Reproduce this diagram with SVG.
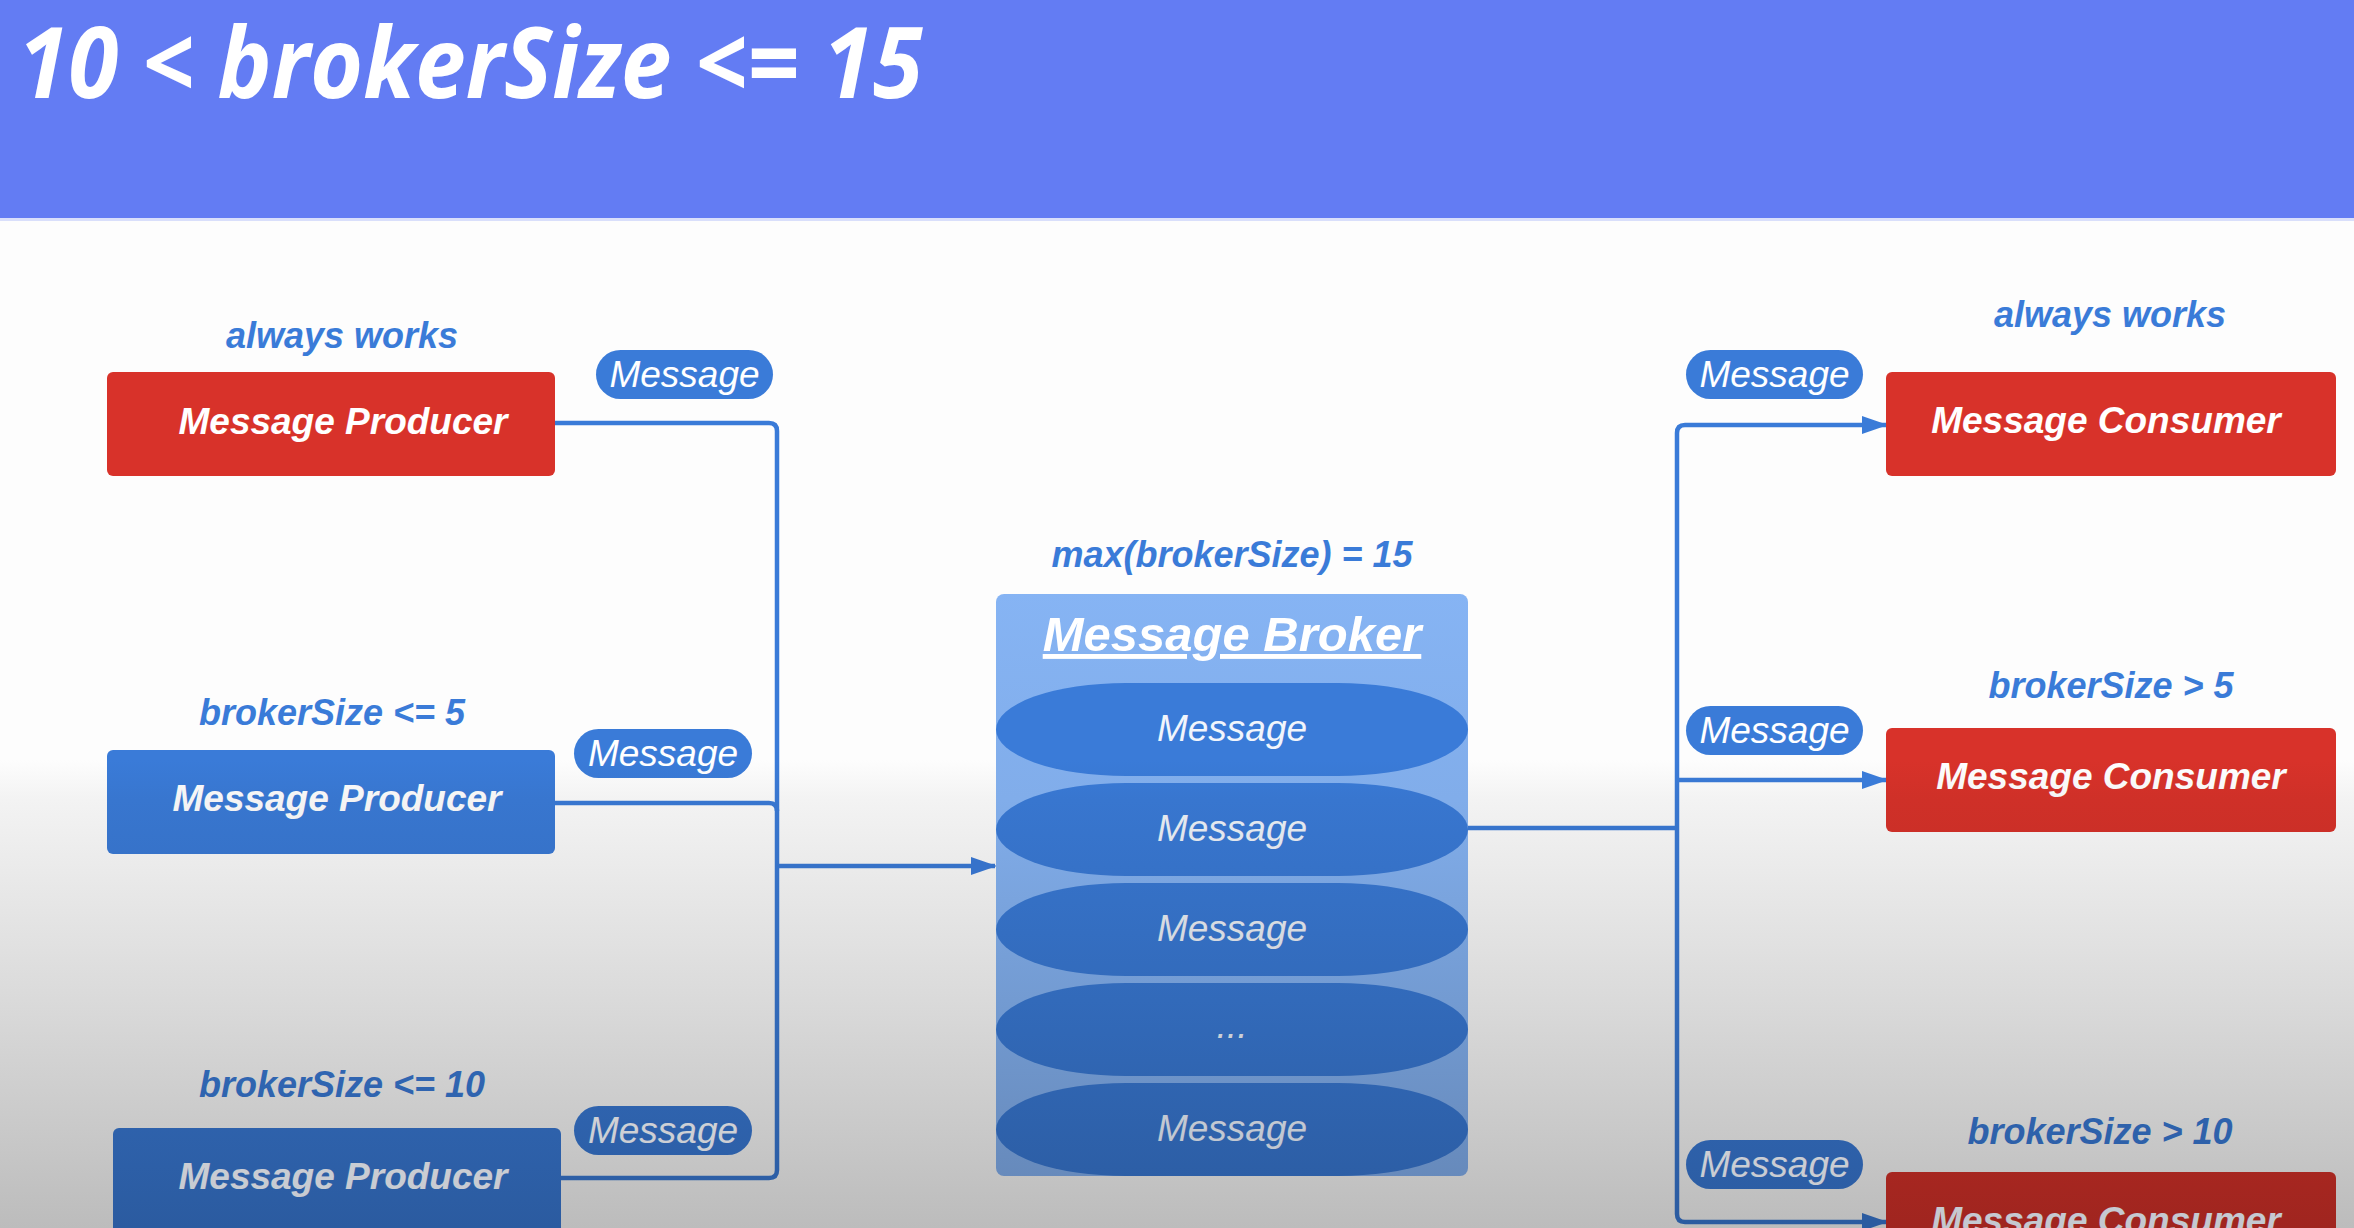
<svg xmlns="http://www.w3.org/2000/svg" width="2354" height="1228" viewBox="0 0 2354 1228">
  <defs>
    <linearGradient id="gBg" gradientUnits="userSpaceOnUse" x1="0" y1="0" x2="0" y2="1228">
      <stop offset="0.619" stop-color="#fdfdfd"/>
      <stop offset="0.651" stop-color="#f3f3f3"/>
      <stop offset="0.814" stop-color="#dadada"/>
      <stop offset="1" stop-color="#bcbcbc"/>
    </linearGradient>
    <linearGradient id="gBlue" gradientUnits="userSpaceOnUse" x1="0" y1="0" x2="0" y2="1228">
      <stop offset="0.619" stop-color="#3a7bd8"/>
      <stop offset="0.651" stop-color="#3876cf"/>
      <stop offset="0.814" stop-color="#326aba"/>
      <stop offset="1" stop-color="#2b5ba0"/>
    </linearGradient>
    <linearGradient id="gRed" gradientUnits="userSpaceOnUse" x1="0" y1="0" x2="0" y2="1228">
      <stop offset="0.619" stop-color="#d8322a"/>
      <stop offset="0.651" stop-color="#cf3028"/>
      <stop offset="0.814" stop-color="#ba2b24"/>
      <stop offset="1" stop-color="#a0251f"/>
    </linearGradient>
    <linearGradient id="gWhite" gradientUnits="userSpaceOnUse" x1="0" y1="0" x2="0" y2="1228">
      <stop offset="0.619" stop-color="#ffffff"/>
      <stop offset="0.651" stop-color="#f4f4f4"/>
      <stop offset="0.814" stop-color="#dbdbdb"/>
      <stop offset="1" stop-color="#c4c8d0"/>
    </linearGradient>
    <linearGradient id="gLight" gradientUnits="userSpaceOnUse" x1="0" y1="0" x2="0" y2="1228">
      <stop offset="0.48" stop-color="#86b4f4"/>
      <stop offset="0.651" stop-color="#81adea"/>
      <stop offset="0.814" stop-color="#739bd2"/>
      <stop offset="1" stop-color="#6385b5"/>
    </linearGradient>
    <marker id="arrL" markerUnits="userSpaceOnUse" markerWidth="26" markerHeight="18" refX="24" refY="9" orient="auto">
      <path d="M0,0 L26,9 L0,18 z" fill="#3a7bd8"/>
    </marker>
    <marker id="arrM" markerUnits="userSpaceOnUse" markerWidth="26" markerHeight="18" refX="24" refY="9" orient="auto">
      <path d="M0,0 L26,9 L0,18 z" fill="#3672ca"/>
    </marker>
    <marker id="arrD" markerUnits="userSpaceOnUse" markerWidth="26" markerHeight="18" refX="24" refY="9" orient="auto">
      <path d="M0,0 L26,9 L0,18 z" fill="#2b5ba0"/>
    </marker>
    <style>
      .lbl { font-family: "Liberation Sans", Arial, sans-serif; font-style: italic; font-weight: bold; font-size: 36px; fill: url(#gBlue); text-anchor: middle; }
      .box { stroke: none; }
      .red { fill: url(#gRed); }
      .blue { fill: url(#gBlue); }
      .boxtxt { font-family: "Liberation Sans", Arial, sans-serif; font-style: italic; font-weight: bold; font-size: 37px; fill: url(#gWhite); text-anchor: middle; }
      .pill { fill: url(#gBlue); }
      .pilltxt { font-family: "Liberation Sans", Arial, sans-serif; font-style: italic; font-size: 37px; fill: url(#gWhite); text-anchor: middle; }
      .msg { fill: url(#gBlue); }
      .msgtxt { font-family: "Liberation Sans", Arial, sans-serif; font-style: italic; font-size: 37px; fill: url(#gWhite); text-anchor: middle; opacity: 0.93; }
      .conn { fill: none; stroke: url(#gBlue); stroke-width: 4.5; stroke-linejoin: round; }
    </style>
  </defs>

  <!-- background -->
  <rect x="0" y="0" width="2354" height="1228" fill="url(#gBg)"/>
  <rect x="0" y="0" width="2354" height="218" fill="#637cf3"/>
  <rect x="0" y="218" width="2354" height="3" fill="#d9dffb"/>
  <text x="18" y="98" font-family="'Open Sans', 'DejaVu Sans', sans-serif" font-style="italic" font-weight="bold" font-size="98" fill="#ffffff" textLength="905" lengthAdjust="spacingAndGlyphs">10 &lt; brokerSize &lt;= 15</text>

  <!-- connectors -->
  <g id="connectors">
    <path class="conn" d="M555,423 H769 Q777,423 777,431 V1170 Q777,1178 769,1178 H561"/>
    <path class="conn" d="M555,803 H769 Q777,803 777,811"/>
    <path class="conn" d="M777,866 H995" marker-end="url(#arrM)"/>
    <path class="conn" d="M1468,828 H1677"/>
    <path class="conn" d="M1677,828 V433 Q1677,425 1685,425 H1886" marker-end="url(#arrL)"/>
    <path class="conn" d="M1677,780 H1886" marker-end="url(#arrL)"/>
    <path class="conn" d="M1677,828 V1214 Q1677,1222 1685,1222 H1886" marker-end="url(#arrD)"/>
    <rect class="pill" x="596" y="350" width="177" height="49" rx="24.5"/>
    <text class="pilltxt" x="684.5" y="387">Message</text>
    <rect class="pill" x="574" y="729" width="178" height="49" rx="24.5"/>
    <text class="pilltxt" x="663" y="766">Message</text>
    <rect class="pill" x="574" y="1106" width="178" height="49" rx="24.5"/>
    <text class="pilltxt" x="663" y="1143">Message</text>
    <rect class="pill" x="1686" y="350" width="177" height="49" rx="24.5"/>
    <text class="pilltxt" x="1774.5" y="387">Message</text>
    <rect class="pill" x="1686" y="706" width="177" height="49" rx="24.5"/>
    <text class="pilltxt" x="1774.5" y="743">Message</text>
    <rect class="pill" x="1686" y="1140" width="177" height="49" rx="24.5"/>
    <text class="pilltxt" x="1774.5" y="1177">Message</text>
  </g>

  <!-- producers -->
  <g id="producer1">
    <text class="lbl" x="342" y="348">always works</text>
    <rect class="box red" x="107" y="372" width="448" height="104" rx="6"/>
    <text class="boxtxt" x="343" y="434">Message Producer</text>
  </g>
  <g id="producer2">
    <text class="lbl" x="332" y="725">brokerSize &lt;= 5</text>
    <rect class="box blue" x="107" y="750" width="448" height="104" rx="6"/>
    <text class="boxtxt" x="337" y="811">Message Producer</text>
  </g>
  <g id="producer3">
    <text class="lbl" x="342" y="1097">brokerSize &lt;= 10</text>
    <rect class="box blue" x="113" y="1128" width="448" height="120" rx="6"/>
    <text class="boxtxt" x="343" y="1189">Message Producer</text>
  </g>

  <!-- broker -->
  <g id="broker">
    <text class="lbl" x="1232" y="567">max(brokerSize) = 15</text>
    <rect x="996" y="594" width="472" height="582" rx="8" fill="url(#gLight)"/>
    <text x="1232" y="651" font-family="'Liberation Sans', Arial, sans-serif" font-style="italic" font-weight="bold" font-size="49" fill="#ffffff" text-anchor="middle" text-decoration="underline">Message Broker</text>
    <rect class="msg" x="996" y="683" width="472" height="93" rx="130" ry="46.5"/>
    <text class="msgtxt" x="1232" y="741">Message</text>
    <rect class="msg" x="996" y="783" width="472" height="93" rx="130" ry="46.5"/>
    <text class="msgtxt" x="1232" y="841">Message</text>
    <rect class="msg" x="996" y="883" width="472" height="93" rx="130" ry="46.5"/>
    <text class="msgtxt" x="1232" y="941">Message</text>
    <rect class="msg" x="996" y="983" width="472" height="93" rx="130" ry="46.5"/>
    <text class="msgtxt" x="1232" y="1038">...</text>
    <rect class="msg" x="996" y="1083" width="472" height="93" rx="130" ry="46.5"/>
    <text class="msgtxt" x="1232" y="1141">Message</text>
  </g>

  <!-- consumers -->
  <g id="consumer1">
    <text class="lbl" x="2110" y="327">always works</text>
    <rect class="box red" x="1886" y="372" width="450" height="104" rx="6"/>
    <text class="boxtxt" x="2106" y="433">Message Consumer</text>
  </g>
  <g id="consumer2">
    <text class="lbl" x="2111" y="698">brokerSize &gt; 5</text>
    <rect class="box red" x="1886" y="728" width="450" height="104" rx="6"/>
    <text class="boxtxt" x="2111" y="789">Message Consumer</text>
  </g>
  <g id="consumer3">
    <text class="lbl" x="2100" y="1144">brokerSize &gt; 10</text>
    <rect class="box red" x="1886" y="1172" width="450" height="110" rx="6"/>
    <text class="boxtxt" x="2106" y="1233">Message Consumer</text>
  </g>
</svg>
